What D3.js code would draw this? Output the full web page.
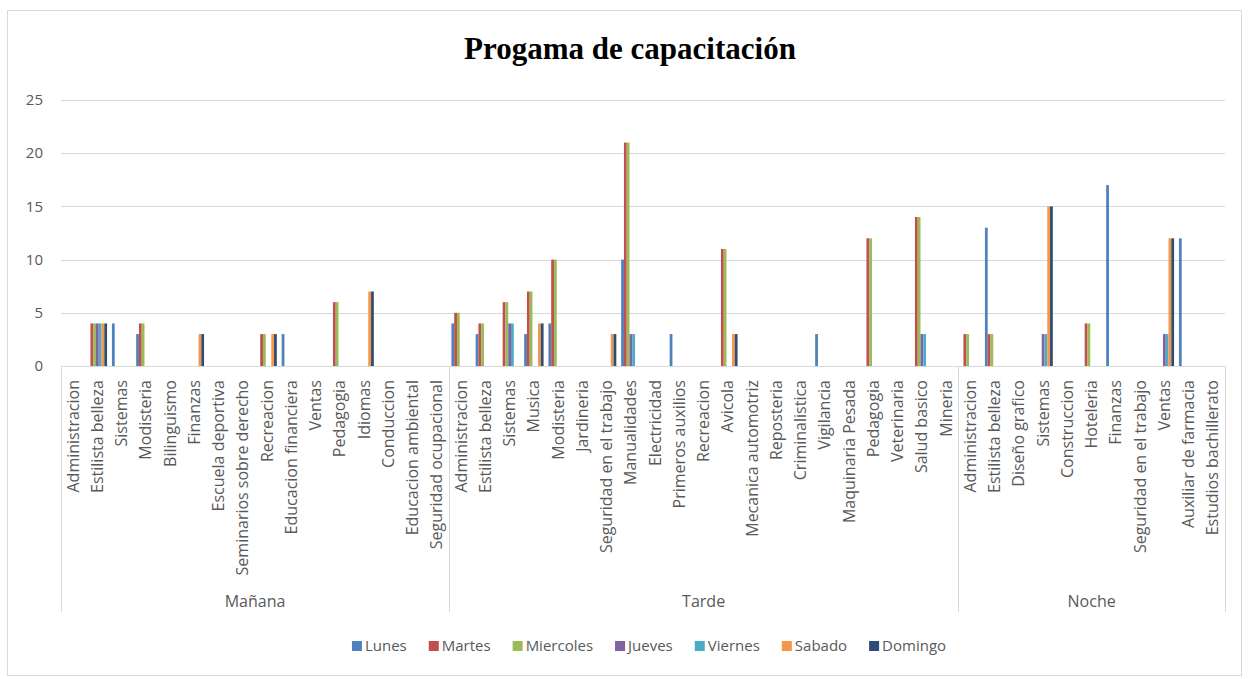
<!DOCTYPE html>
<html>
<head>
<meta charset="utf-8">
<script src="https://cdn.jsdelivr.net/npm/d3@7"></script>
<style>
	body { margin: 0; background: #fff; }
	text { font-family: "Open Sans", sans-serif; fill: #595959; }
</style>
</head>
<body>
<svg id="chart" width="1250" height="679"></svg>
<script>
// category labels per time slot
var manana = ['Administracion', 'Estilista belleza', 'Sistemas', 'Modisteria', 'Bilinguismo', 'Finanzas',
	'Escuela deportiva', 'Seminarios sobre derecho', 'Recreacion', 'Educacion financiera', 'Ventas',
	'Pedagogia', 'Idiomas', 'Conduccion', 'Educacion ambiental', 'Seguridad ocupacional'];
var tarde = ['Administracion', 'Estilista belleza', 'Sistemas', 'Musica', 'Modisteria', 'Jardineria',
	'Seguridad en el trabajo', 'Manualidades', 'Electricidad', 'Primeros auxilios', 'Recreacion', 'Avicola',
	'Mecanica automotriz', 'Reposteria', 'Criminalistica', 'Vigilancia', 'Maquinaria Pesada', 'Pedagogia',
	'Veterinaria', 'Salud basico', 'Mineria'];
var noche = ['Administracion', 'Estilista belleza', 'Diseño grafico', 'Sistemas', 'Construccion', 'Hoteleria',
	'Finanzas', 'Seguridad en el trabajo', 'Ventas', 'Auxiliar de farmacia', 'Estudios bachillerato'];

var groups = [['Mañana', manana], ['Tarde', tarde], ['Noche', noche]];

var days = ['Lunes', 'Martes', 'Miercoles', 'Jueves', 'Viernes', 'Sabado', 'Domingo'];
var dayColors = ['#4F81BD', '#C0504D', '#9BBB59', '#8064A2', '#4BACC6', '#F79646', '#2C4D75'];

// values: manana (16) | tarde (21) | noche (11)
var lunes = [0,0,4,3,0,0,0,0,0,3,0,0,0,0,0,0,
	4,3,0,3,4,0,0,10,0,3,0,0,0,0,0,3,0,0,0,0,0,
	0,13,0,0,0,0,17,0,0,12,0];
var martes = [0,4,0,4,0,0,0,0,3,0,0,6,0,0,0,0,
	5,4,6,7,10,0,0,21,0,0,0,11,0,0,0,0,0,12,0,14,0,
	3,3,0,0,0,4,0,0,0,0,0];
var miercoles = [0,4,0,4,0,0,0,0,3,0,0,6,0,0,0,0,
	5,4,6,7,10,0,0,21,0,0,0,11,0,0,0,0,0,12,0,14,0,
	3,3,0,0,0,4,0,0,0,0,0];
var jueves = [0,4,0,0,0,0,0,0,0,0,0,0,0,0,0,0,
	0,0,4,0,0,0,0,3,0,0,0,0,0,0,0,0,0,0,0,3,0,
	0,0,0,3,0,0,0,0,3,0,0];
var viernes = [0,4,0,0,0,0,0,0,0,0,0,0,0,0,0,0,
	0,0,4,0,0,0,0,3,0,0,0,0,0,0,0,0,0,0,0,3,0,
	0,0,0,3,0,0,0,0,3,0,0];
var sabado = [0,4,0,0,0,3,0,0,3,0,0,0,7,0,0,0,
	0,0,0,4,0,0,3,0,0,0,0,3,0,0,0,0,0,0,0,0,0,
	0,0,0,15,0,0,0,0,12,0,0];
var domingo = [0,4,0,0,0,3,0,0,3,0,0,0,7,0,0,0,
	0,0,0,4,0,0,3,0,0,0,0,3,0,0,0,0,0,0,0,0,0,
	0,0,0,15,0,0,0,0,12,0,0];

var seriesValues = [lunes, martes, miercoles, jueves, viernes, sabado, domingo];
var yTicks = [0, 5, 10, 15, 20, 25];

// flatten categories into one list of keys
var cats = [];
groups.forEach(function(g) {
	g[1].forEach(function(name) { cats.push({ group: g[0], name: name, key: g[0] + '|' + name }); });
});

var svg = d3.select('#chart');
var plotLeft = 61, plotRight = 1225, plotTop = 100, plotBase = 366;

svg.append('rect')
	.attr('x', 7.5).attr('y', 10.5).attr('width', 1234).attr('height', 665)
	.attr('fill', '#fff').attr('stroke', '#d9d9d9');

var x0 = d3.scaleBand().domain(cats.map(function(c) { return c.key; })).range([plotLeft, plotRight]);
var x1 = d3.scaleBand().domain(days).range([x0.bandwidth() * 0.1, x0.bandwidth() * 0.9]);
var y = d3.scaleLinear().domain([0, 25]).range([plotBase, plotTop]);

// gridlines
svg.append('g').selectAll('line').data(yTicks.slice(1)).enter().append('line')
	.attr('x1', plotLeft).attr('x2', plotRight)
	.attr('y1', function(d) { return Math.round(y(d)) + 0.5; })
	.attr('y2', function(d) { return Math.round(y(d)) + 0.5; })
	.attr('stroke', '#d9d9d9').attr('stroke-width', 1);

svg.append('g').selectAll('text').data(yTicks).enter().append('text')
	.attr('x', 43).attr('y', function(d) { return y(d); })
	.attr('dy', '0.35em').attr('text-anchor', 'end')
	.style('font-size', '15px')
	.text(function(d) { return d; });

// bars
var bars = [];
seriesValues.forEach(function(vals, s) {
	vals.forEach(function(v, i) {
		if (v > 0) bars.push({ day: days[s], color: dayColors[s], cat: cats[i].key, value: v });
	});
});

svg.append('g').selectAll('rect').data(bars).enter().append('rect')
	.attr('x', function(d) { return x0(d.cat) + x1(d.day); })
	.attr('y', function(d) { return y(d.value); })
	.attr('width', x1.bandwidth())
	.attr('height', function(d) { return y(0) - y(d.value); })
	.attr('fill', function(d) { return d.color; });

// category axis
svg.append('line')
	.attr('x1', plotLeft).attr('x2', plotRight).attr('y1', plotBase + 0.5).attr('y2', plotBase + 0.5)
	.attr('stroke', '#d9d9d9');

var catLabels = svg.append('g').selectAll('g').data(cats).enter().append('g')
	.attr('transform', function(d) { return 'translate(' + (x0(d.key) + x0.bandwidth() / 2) + ',380) rotate(-90)'; });
catLabels.append('text')
	.attr('text-anchor', 'end').attr('dy', '0.35em')
	.style('font-size', '16px')
	.text(function(d) { return d.name; });

// group separators and labels
var bounds = [];
var idx = 0;
groups.forEach(function(g) {
	var first = cats[idx].key, last = cats[idx + g[1].length - 1].key;
	bounds.push({ name: g[0], x0: x0(first), x1: x0(last) + x0.bandwidth() });
	idx += g[1].length;
});

var sepX = [bounds[0].x0].concat(bounds.map(function(b) { return b.x1; }));
svg.append('g').selectAll('line').data(sepX).enter().append('line')
	.attr('x1', function(d) { return Math.round(d) + 0.5; })
	.attr('x2', function(d) { return Math.round(d) + 0.5; })
	.attr('y1', plotBase).attr('y2', 612)
	.attr('stroke', '#d9d9d9');

svg.append('g').selectAll('text').data(bounds).enter().append('text')
	.attr('x', function(d) { return (d.x0 + d.x1) / 2; })
	.attr('y', 601).attr('dy', '0.35em').attr('text-anchor', 'middle')
	.style('font-size', '16px')
	.text(function(d) { return d.name; });

// title
svg.append('text')
	.attr('x', 630).attr('y', 59).attr('text-anchor', 'middle')
	.style('font-family', '"Liberation Serif", "Times New Roman", serif')
	.style('font-weight', 'bold').style('font-size', '31px').style('fill', '#000')
	.text('Progama de capacitación');

// legend
var legend = svg.append('g');
var lx = 0;
days.forEach(function(day, i) {
	var item = legend.append('g').attr('transform', 'translate(' + lx + ',0)');
	item.append('rect').attr('x', 0).attr('y', -5).attr('width', 10).attr('height', 10).attr('fill', dayColors[i]);
	var t = item.append('text').attr('x', 13).attr('dy', '0.35em').style('font-size', '15px').text(day);
	lx += 13 + t.node().getComputedTextLength() + 22;
});
lx -= 22;
legend.attr('transform', 'translate(' + (649 - lx / 2) + ',646)');
</script>
</body>
</html>
